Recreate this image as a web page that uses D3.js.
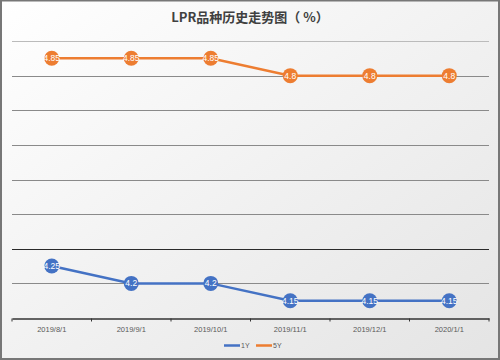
<!DOCTYPE html>
<html><head><meta charset="utf-8">
<script src="https://cdn.jsdelivr.net/npm/d3@7"></script>
<style>body{margin:0;background:#fff}svg{display:block}</style>
</head><body>
<svg id="c" width="500" height="360"></svg>
<script>
const categories = ["2019/8/1","2019/9/1","2019/10/1","2019/11/1","2019/12/1","2020/1/1"];
const series1Y = [4.25, 4.2, 4.2, 4.15, 4.15, 4.15];
const series5Y = [4.85, 4.85, 4.85, 4.8, 4.8, 4.8];
const seriesNames = ["1Y","5Y"];
const colors = ["#4472C4","#ED7D31"];
const yTicks = [4.1,4.2,4.3,4.4,4.5,4.6,4.7,4.8,4.9];
const title = "LPR品种历史走势图（ %）";

const svg = d3.select("#c");
const W = 500, H = 360;
const defs = svg.append("defs");
const g0 = defs.append("linearGradient").attr("id","bg").attr("x1","0").attr("y1","0").attr("x2","1").attr("y2","1");
g0.append("stop").attr("offset","0").attr("stop-color","#ffffff");
g0.append("stop").attr("offset","1").attr("stop-color","#e4e4e4");
svg.append("rect").attr("x",0).attr("y",0).attr("width",W).attr("height",H).attr("fill","url(#bg)");
svg.append("rect").attr("x",1).attr("y",0.5).attr("width",W-2).attr("height",H-1.5).attr("fill","none").attr("stroke","#777").attr("stroke-width",2);

const x = d3.scaleBand().domain(categories).range([12, 489]);
const y = d3.scaleLinear().domain([4.1, 4.9]).range([318, 41]);

svg.append("text").attr("x",250).attr("y",22).attr("text-anchor","middle")
  .attr("font-family","Noto Sans CJK SC, sans-serif").attr("font-size",13).attr("font-weight","bold")
  .attr("fill","#404040").text(title);

const grid = svg.append("g");
grid.selectAll("line").data(yTicks.slice(1)).join("line")
  .attr("x1",12).attr("x2",489)
  .attr("y1",d=>Math.round(y(d))+0.5).attr("y2",d=>Math.round(y(d))+0.5)
  .attr("stroke",(d,i)=> Math.abs(d-4.3)<1e-6 ? "#2a2a2a" : (Math.abs(d-4.9)<1e-6 ? "#bbbbbb" : "#8a8a8a"))
  .attr("stroke-width",1);

const xAxis = svg.append("g").attr("transform",`translate(0,${Math.round(y(4.1))+0.5})`)
  .call(d3.axisBottom(x).tickSize(0).tickPadding(8));
xAxis.select(".domain").attr("stroke","#333").attr("stroke-width",1.5);
xAxis.selectAll("text").attr("font-family","Liberation Sans, Arial, sans-serif").attr("font-size",7.5).attr("fill","#595959");
// tick marks at category boundaries
const bounds = categories.map(c=>x(c)).concat([x.range()[1]]);
xAxis.selectAll(".bt").data(bounds).join("line").attr("class","bt")
  .attr("x1",d=>d).attr("x2",d=>d).attr("y1",0).attr("y2",3).attr("stroke","#333");

const data = [series1Y, series5Y];
const line = d3.line().x((d,i)=>x(categories[i])+x.bandwidth()/2).y(d=>y(d));
data.forEach((s,k)=>{
  const g = svg.append("g");
  g.append("path").datum(s).attr("d",line).attr("fill","none").attr("stroke",colors[k]).attr("stroke-width",2.5);
  g.selectAll("circle").data(s).join("circle")
    .attr("cx",(d,i)=>x(categories[i])+x.bandwidth()/2).attr("cy",d=>y(d)).attr("r",7.5)
    .attr("fill",colors[k]);
  g.selectAll("text").data(s).join("text")
    .attr("x",(d,i)=>x(categories[i])+x.bandwidth()/2).attr("y",d=>y(d)+3)
    .attr("text-anchor","middle").attr("font-family","Liberation Sans, Arial, sans-serif")
    .attr("font-size",8.5).attr("fill","#fff").text(d=>d);
});

const leg = svg.append("g");
seriesNames.forEach((n,k)=>{
  const lx = 224 + k*32;
  leg.append("line").attr("x1",lx).attr("x2",lx+16).attr("y1",345.5).attr("y2",345.5).attr("stroke",colors[k]).attr("stroke-width",2.5);
  leg.append("text").attr("x",lx+17).attr("y",348).attr("font-family","Liberation Sans, Arial, sans-serif")
    .attr("font-size",7).attr("fill","#595959").text(n);
});
</script>
</body></html>
